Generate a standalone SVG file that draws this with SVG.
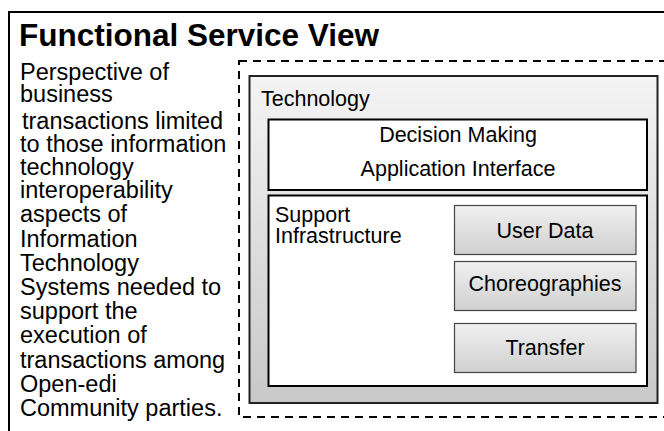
<svg xmlns="http://www.w3.org/2000/svg" width="664" height="431" viewBox="0 0 664 431">
<defs>
<linearGradient id="techGrad" x1="0" y1="0" x2="0" y2="1">
<stop offset="0" stop-color="#f4f4f4"/>
<stop offset="1" stop-color="#c8c8c8"/>
</linearGradient>
<linearGradient id="btnGrad" x1="0" y1="0" x2="0" y2="1">
<stop offset="0" stop-color="#f0f0f0"/>
<stop offset="1" stop-color="#d0d0d0"/>
</linearGradient>
</defs>
<style>
text { font-family: "Liberation Sans", Arial, sans-serif; fill: #000; }
.title { font-size: 31.5px; font-weight: bold; }
.body { font-size: 23.5px; }
.lbl { font-size: 21.5px; }
.mid { text-anchor: middle; }
.white { fill: #fff; stroke: #000; stroke-width: 2; }
.btn { fill: url(#btnGrad); stroke: #444; stroke-width: 1.2; }
</style>
<rect id="frame" x="9" y="12" width="700" height="500" fill="#fff" stroke="#000" stroke-width="2"/>
<g id="title"><text class="title" x="19" y="46">Functional Service View</text></g>
<g id="description">
<text class="body" x="20" y="80">Perspective of</text>
<text class="body" x="20" y="102">business</text>
<text class="body" x="22" y="129">transactions limited</text>
<text class="body" x="20" y="152">to those information</text>
<text class="body" x="20" y="175">technology</text>
<text class="body" x="20" y="198">interoperability</text>
<text class="body" x="20" y="222">aspects of</text>
<text class="body" x="20" y="247">Information</text>
<text class="body" x="20" y="271">Technology</text>
<text class="body" x="20" y="295">Systems needed to</text>
<text class="body" x="20" y="319">support the</text>
<text class="body" x="20" y="343">execution of</text>
<text class="body" x="20" y="368">transactions among</text>
<text class="body" x="20" y="392">Open-edi</text>
<text class="body" x="20" y="416">Community parties.</text>
</g>
<g id="dashed-region">
<rect x="239" y="61" width="500" height="356" fill="none" stroke="#000" stroke-width="2" stroke-dasharray="8,6"/>
</g>
<g id="technology">
<rect x="249.5" y="76" width="408" height="327" fill="url(#techGrad)" stroke="#222" stroke-width="2"/>
<text class="lbl" x="261" y="106">Technology</text>
</g>
<g id="decision-making">
<rect class="white" x="268.5" y="119.5" width="378.5" height="70.5"/>
<text class="lbl mid" x="458" y="142">Decision Making</text>
<text class="lbl mid" x="458" y="176">Application Interface</text>
</g>
<g id="support-infrastructure">
<rect class="white" x="268.5" y="195.5" width="378.5" height="190.5"/>
<text class="lbl" x="275" y="222">Support</text>
<text class="lbl" x="275" y="243">Infrastructure</text>
</g>
<g id="user-data">
<rect class="btn" x="454.5" y="205.5" width="181.5" height="49"/>
<text class="lbl mid" x="545" y="238">User Data</text>
</g>
<g id="choreographies">
<rect class="btn" x="454.5" y="261.5" width="181.5" height="49"/>
<text class="lbl mid" x="545" y="291">Choreographies</text>
</g>
<g id="transfer">
<rect class="btn" x="454.5" y="323.5" width="181.5" height="49"/>
<text class="lbl mid" x="545" y="355">Transfer</text>
</g>
<g id="connectors"></g>
</svg>
